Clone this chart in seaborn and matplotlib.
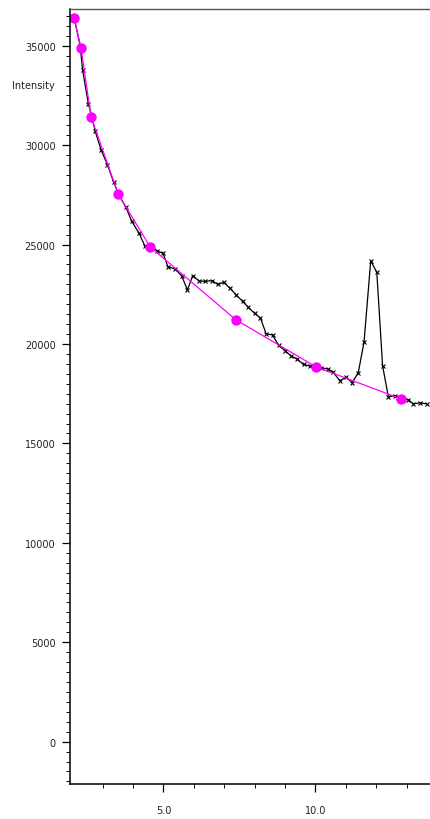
import numpy as np
import pandas as pd
import matplotlib
matplotlib.use("Agg")
import matplotlib.pyplot as plt
from matplotlib.ticker import MultipleLocator, FixedLocator, FormatStrFormatter
import seaborn as sns

# Measured spectrum (black)
spec_x = [2.06, 2.26, 2.34, 2.53, 2.65, 2.75, 2.95, 3.16, 3.36, 3.55, 3.77, 3.95,
          4.20, 4.39, 4.59, 4.79, 4.99, 5.15, 5.38, 5.60, 5.79, 5.96, 6.18, 6.38,
          6.59, 6.79, 6.98, 7.19, 7.39, 7.61, 7.79, 8.00, 8.19, 8.38, 8.59, 8.79,
          9.00, 9.20, 9.39, 9.61, 9.81, 10.01, 10.20, 10.40, 10.59, 10.80, 11.02,
          11.21, 11.41, 11.60, 11.82, 12.02, 12.21, 12.40, 12.62, 12.84, 13.06,
          13.22, 13.44, 13.66]
spec_y = [36450, 34990, 33790, 32080, 31420, 30730, 29760, 29010, 28150, 27450,
          26870, 26190, 25570, 24930, 24980, 24680, 24560, 23880, 23780, 23430,
          22720, 23430, 23170, 23150, 23190, 23000, 23100, 22810, 22470, 22140,
          21850, 21540, 21310, 20510, 20460, 19930, 19670, 19400, 19250, 18970,
          18900, 18820, 18800, 18750, 18570, 18160, 18320, 18060, 18560, 20100,
          24190, 23600, 18910, 17340, 17400, 17270, 17200, 16990, 17040, 16990]

# Background anchor points (magenta)
bg_x = [2.06, 2.29, 2.62, 3.51, 4.56, 7.39, 10.02, 12.82]
bg_y = [36400, 34890, 31420, 27550, 24890, 21210, 18850, 17240]

# Axis ticks
x_major = [5, 10]
x_minor = [3, 4, 6, 7, 8, 9, 11, 12, 13]

spec = pd.DataFrame({"x": spec_x, "y": spec_y})
bg = pd.DataFrame({"x": bg_x, "y": bg_y})

sns.set_style("ticks")
plt.rcParams["font.family"] = ["DejaVu Sans"]

fig = plt.figure(figsize=(4.3, 8.2), dpi=100)
ax = fig.add_axes([69.5 / 430, 1 - 785 / 820, 1.0 - 69.5 / 430, (785 - 10) / 820])

sns.lineplot(data=spec, x="x", y="y", ax=ax, color="black", linewidth=0.9,
             marker="x", markersize=3, markeredgewidth=0.8,
             markeredgecolor="black", sort=False, estimator=None)
sns.lineplot(data=bg, x="x", y="y", ax=ax, color="#FF00FF", linewidth=0.9,
             marker="o", markersize=7.5, markeredgewidth=0,
             markeredgecolor="#FF00FF", sort=False, estimator=None)

ax.set_xlim(1.91, 13.77)
ax.set_ylim(-2130, 36850)
ax.set_xlabel("")
ax.set_ylabel("")

ax.xaxis.set_major_locator(FixedLocator(x_major))
ax.xaxis.set_minor_locator(FixedLocator(x_minor))
ax.xaxis.set_major_formatter(FormatStrFormatter("%.1f"))
ax.yaxis.set_major_locator(MultipleLocator(5000))
ax.yaxis.set_minor_locator(MultipleLocator(500))
ax.yaxis.set_major_formatter(FormatStrFormatter("%d"))

ax.tick_params(axis="both", which="major", length=6, width=0.9, colors="black",
               labelsize=7, labelcolor="#222222")
ax.tick_params(axis="both", which="minor", length=3, width=0.7, colors="black")
ax.tick_params(axis="x", which="major", pad=9)
ax.tick_params(axis="y", which="major", pad=4)

for s in ["left", "bottom"]:
    ax.spines[s].set_color("black")
    ax.spines[s].set_linewidth(1.1)
ax.spines["top"].set_visible(True)
ax.spines["top"].set_color("#555555")
ax.spines["top"].set_linewidth(1.0)
ax.spines["right"].set_visible(False)

fig.text(12 / 430, 1 - 86 / 820, "Intensity", fontsize=7, color="#222222",
         ha="left", va="center")

fig.savefig("out.png", dpi=100, facecolor="white")
